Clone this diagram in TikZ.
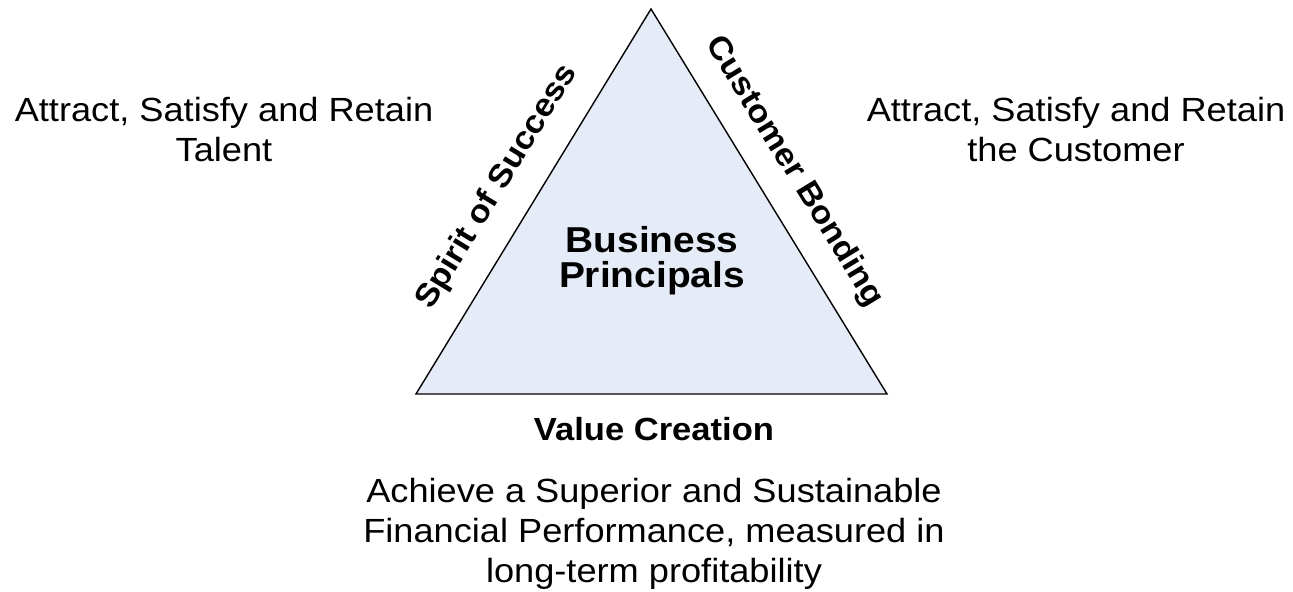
\documentclass[tikz,border=0pt]{standalone}
\usepackage{fontspec}
\setmainfont{Liberation Sans}[FakeStretch=1.08]
\definecolor{trifill}{RGB}{230,236,247}
\begin{document}
\begin{tikzpicture}[x=0.01cm,y=-0.01cm,
  plain/.style={align=center,inner sep=0pt,font=\fontsize{9.53pt}{11.38pt}\selectfont},
  centre/.style={align=center,inner sep=0pt,font=\fontsize{10.24pt}{9.96pt}\selectfont\bfseries},
  sidelabel/.style={inner sep=0pt,font=\fontsize{9.1pt}{10pt}\selectfont\bfseries},
  tri/.style={draw=black,line width=0.4pt,fill=trifill,line join=miter}]
\useasboundingbox (0,0) rectangle (1293,592);
\coordinate (apex) at (651,9);
\coordinate (bl) at (416,394);
\coordinate (br) at (887,394);
\draw[tri] (apex) -- (bl) -- (br) -- cycle;
\node[centre] (bp) at (652,261) {Business\\Principals};
\node[sidelabel,rotate=58.6] (sos) at (497,187) {Spirit of Success};
\node[sidelabel,rotate=-58.6] (cb) at (794,172) {Customer Bonding};
\node[sidelabel] (vc) at (654,429) {Value Creation};
\node[plain] (talent) at (224,130) {Attract, Satisfy and Retain\\Talent};
\node[plain] (cust) at (1076,130) {Attract, Satisfy and Retain\\the Customer};
\node[plain] (fin) at (654,534) {Achieve a Superior and Sustainable\\Financial Performance, measured in\\long-term profitability};
\end{tikzpicture}
\end{document}
